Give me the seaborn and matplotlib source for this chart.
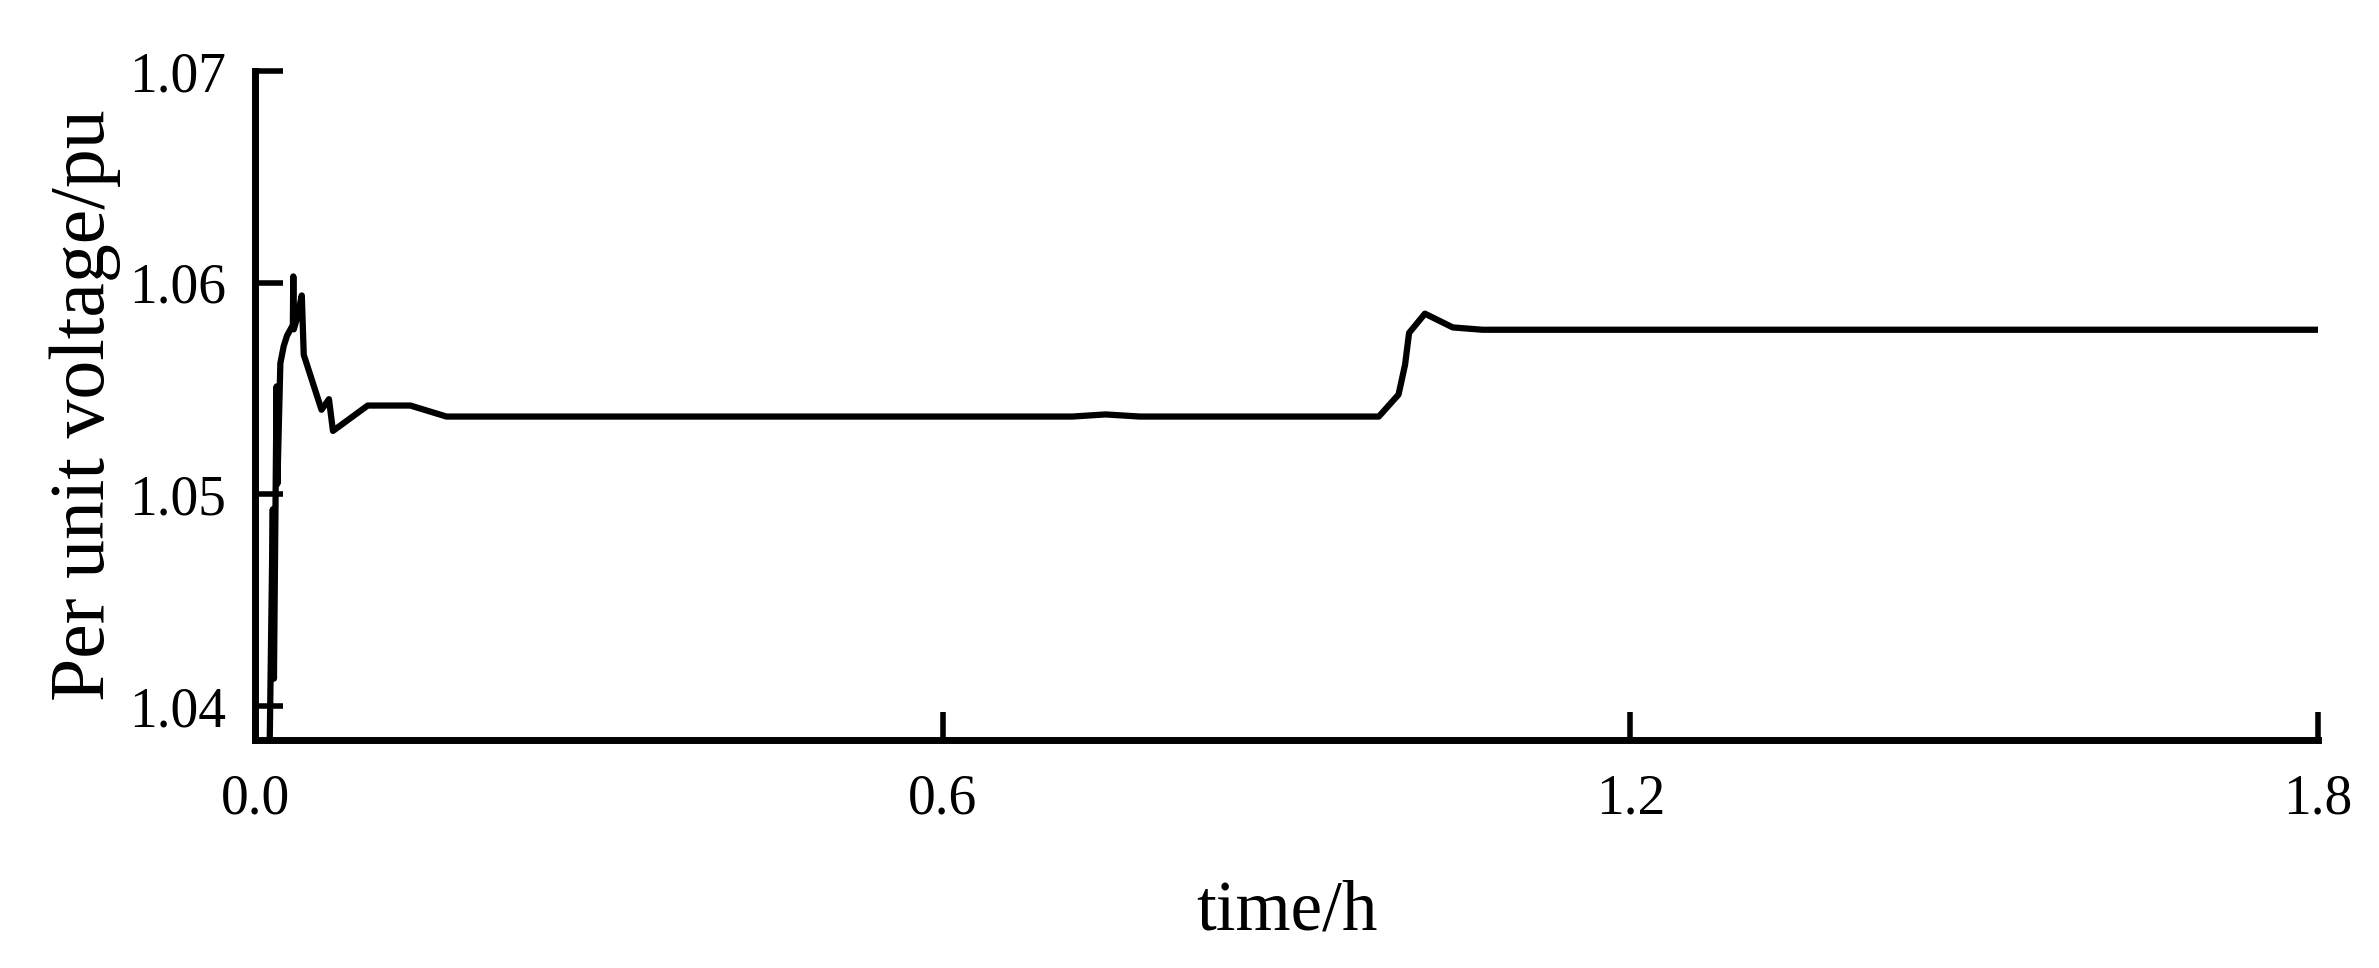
import pandas as pd
import seaborn as sns
import matplotlib
matplotlib.use("Agg")
import matplotlib.pyplot as plt

# values
time_h = [0.0125, 0.0155, 0.0165, 0.0188, 0.0195, 0.0221, 0.0250, 0.0279,
          0.0330, 0.0334, 0.0338, 0.0365, 0.0408, 0.0425, 0.0580, 0.0645,
          0.0680, 0.0983, 0.1356, 0.1670, 0.7130, 0.7420, 0.7720, 0.9805,
          0.9977, 1.0034, 1.0069, 1.0207, 1.0450, 1.0709, 1.8000]
voltage = [1.0370, 1.0493, 1.0413, 1.0551, 1.0505, 1.0562, 1.0570, 1.0575,
           1.0580, 1.0603, 1.0578, 1.0583, 1.0594, 1.0566, 1.0540, 1.0545,
           1.0530, 1.0542, 1.0542, 1.05368, 1.05368, 1.05378, 1.05368, 1.05368,
           1.05472, 1.05613, 1.05763, 1.05854, 1.05789, 1.05778, 1.05778]

x_ticks = [0.0, 0.6, 1.2, 1.8]
x_tick_labels = ["0.0", "0.6", "1.2", "1.8"]
y_ticks = [1.04, 1.05, 1.06, 1.07]
y_tick_labels = ["1.04", "1.05", "1.06", "1.07"]

df = pd.DataFrame({"time": time_h, "voltage": voltage})

sns.set_style("ticks")
plt.rcParams["font.family"] = ["Liberation Serif", "DejaVu Serif"]
plt.rcParams["text.color"] = "black"
plt.rcParams["axes.labelcolor"] = "black"

fig = plt.figure(figsize=(23.79, 9.68), dpi=100)
ax = fig.add_axes([0.1072, 0.2355, 0.8672, 0.6911])

sns.lineplot(data=df, x="time", y="voltage", sort=False, estimator=None,
             color="black", linewidth=4.5, ax=ax)

ax.set_xlim(0, 1.8)
ax.set_ylim(1.0384, 1.07)
ax.set_xticks(x_ticks)
ax.set_xticklabels(x_tick_labels)
ax.set_yticks(y_ticks)
ax.set_yticklabels(y_tick_labels)

sns.despine(ax=ax)
for side in ["left", "bottom"]:
    ax.spines[side].set_linewidth(5)
    ax.spines[side].set_color("black")

ax.tick_params(axis="both", direction="in", length=20, width=4,
               labelsize=40, colors="black")
ax.tick_params(axis="x", pad=24)
ax.tick_params(axis="y", pad=21)

ax.set_xlabel("time/h", fontsize=51, labelpad=39)
ax.set_ylabel("Per unit voltage/pu", fontsize=56, labelpad=6)

fig.savefig("out.png", dpi=100, facecolor="white")
